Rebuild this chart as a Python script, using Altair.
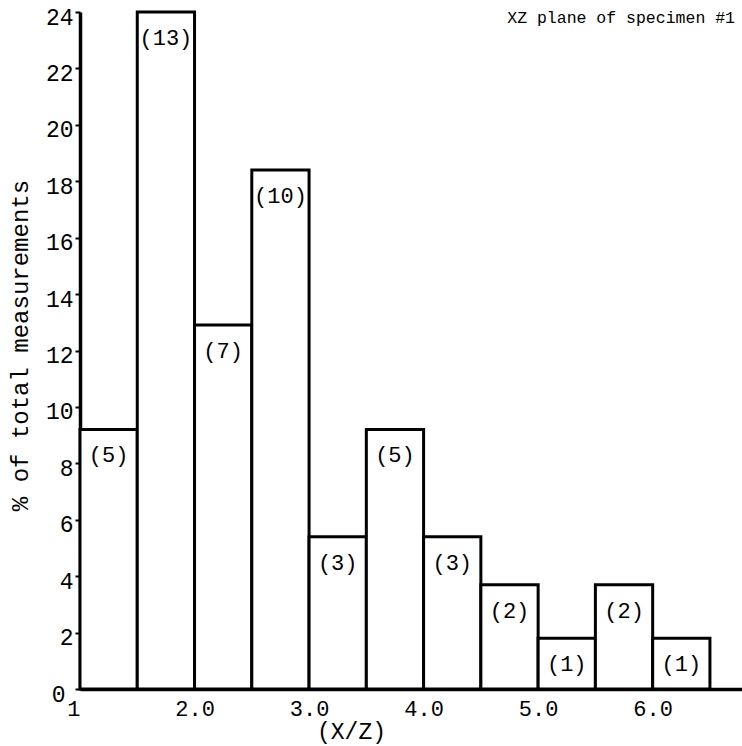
import altair as alt
import pandas as pd

# Histogram of X/Z ratios, bins 0.5 wide
bin_start = [1.0, 1.5, 2.0, 2.5, 3.0, 3.5, 4.0, 4.5, 5.0, 5.5, 6.0]
bin_end = [1.5, 2.0, 2.5, 3.0, 3.5, 4.0, 4.5, 5.0, 5.5, 6.0, 6.5]
percent = [9.2, 24.0, 12.9, 18.4, 5.4, 9.2, 5.4, 3.7, 1.8, 3.7, 1.8]
counts = [5, 13, 7, 10, 3, 5, 3, 2, 1, 2, 1]
x_ticks = [1, 2, 3, 4, 5, 6]
y_ticks = [0, 2, 4, 6, 8, 10, 12, 14, 16, 18, 20, 22, 24]
title_text = "XZ plane of specimen #1"

FONT = "Liberation Mono"

df = pd.DataFrame({
    "start": bin_start,
    "end": bin_end,
    "pct": percent,
    "n": counts,
})
df["label"] = ["(" + str(c) + ")" for c in counts]

x_scale = alt.Scale(domain=[1, 6.78], nice=False, zero=False)
y_scale = alt.Scale(domain=[0, 24], nice=False)

x_axis = alt.Axis(
    values=x_ticks,
    labelExpr="datum.value == 1 ? '1' : format(datum.value, '.1f')",
    labelAlign={"condition": {"test": "datum.value == 1", "value": "right"}, "value": "center"},
    ticks=False,
    grid=False,
    domainColor="black",
    domainWidth=3.5,
    labelFont=FONT,
    labelFontSize=22,
    labelColor="black",
    labelPadding=9,
    title="(X/Z)",
    titleFont=FONT,
    titleFontSize=23,
    titleFontWeight="normal",
    titleColor="black",
    titleX=271,
    titleY=42,
    titleAlign="center",
    titleBaseline="middle",
)

y_axis = alt.Axis(
    values=y_ticks,
    grid=False,
    domainColor="black",
    domainWidth=3.5,
    tickColor="black",
    tickSize=5,
    tickWidth=2,
    labelFont=FONT,
    labelFontSize=23,
    labelColor="black",
    labelPadding={"condition": {"test": "datum.value == 0", "value": 10}, "value": 2},
    labelOffset=5,
    title="% of total measurements",
    titleFont=FONT,
    titleFontSize=24,
    titleFontWeight="normal",
    titleColor="black",
    titleX=-60,
    titleY=333,
    titleAngle=-90,
    titleAlign="center",
    titleBaseline="middle",
)

bars = alt.Chart(df).mark_rect(
    fill="white", stroke="black", strokeWidth=3
).encode(
    x=alt.X("start:Q", scale=x_scale, axis=x_axis),
    x2="end:Q",
    y=alt.Y("pct:Q", scale=y_scale, axis=y_axis),
    y2=alt.datum(0),
)

labels = alt.Chart(df).transform_calculate(
    mid="(datum.start + datum.end) / 2"
).mark_text(
    font=FONT, fontSize=22, color="black", baseline="middle", align="center", dy=26
).encode(
    x=alt.X("mid:Q", scale=x_scale),
    y=alt.Y("pct:Q", scale=y_scale),
    text="label:N",
)

title = alt.Chart(pd.DataFrame({"t": [title_text]})).mark_text(
    font=FONT, fontSize=16.5, color="black", align="right", baseline="middle"
).encode(
    x=alt.value(655),
    y=alt.value(6),
    text="t:N",
)

chart = alt.layer(bars, labels, title).properties(
    width=662,
    height=677,
    autosize=alt.AutoSizeParams(type="none"),
    padding={"left": 80, "top": 12, "right": 0, "bottom": 57},
    background="white",
).configure_view(stroke=None)

chart.save("out.html", embed_options={"renderer": "svg", "actions": False})
